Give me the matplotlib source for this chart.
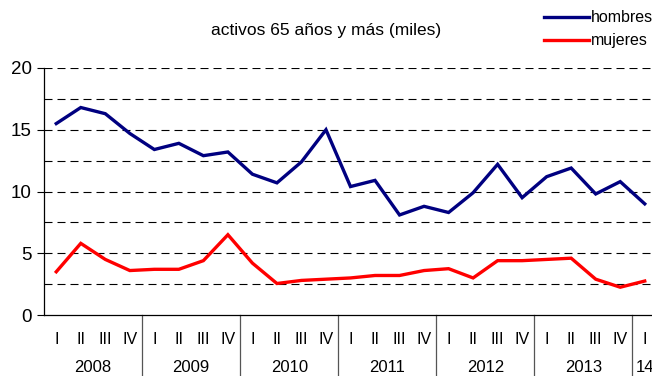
import matplotlib
matplotlib.use('Agg')
import matplotlib.pyplot as plt
import matplotlib.transforms as transforms
import numpy as np

plt.rcParams['font.family'] = ['Liberation Sans', 'DejaVu Sans']

YEARS = ['2008', '2009', '2010', '2011', '2012', '2013', '14']
QUARTERS = ['I', 'II', 'III', 'IV']

hombres = [15.5, 16.8, 16.3, 14.7, 13.4, 13.9, 12.9, 13.2,
           11.4, 10.7, 12.4, 15.0, 10.4, 10.9, 8.1, 8.8,
           8.3, 9.9, 12.2, 9.5, 11.2, 11.9, 9.8, 10.8, 9.0]
mujeres = [3.5, 5.8, 4.5, 3.6, 3.7, 3.7, 4.4, 6.5,
           4.2, 2.55, 2.8, 2.9, 3.0, 3.2, 3.2, 3.6,
           3.75, 3.0, 4.4, 4.4, 4.5, 4.6, 2.9, 2.25, 2.75]

W, H = 652, 376
fig = plt.figure(figsize=(W / 100, H / 100), dpi=100)
# axes run a little past the right edge, so the last year is cut off
ax = fig.add_axes([44 / W, (H - 315) / H, (657 - 44) / W, (315 - 68) / H])

x = np.arange(len(hombres))
ax.plot(x, hombres, color='#000080', lw=2.4, label='hombres', solid_joinstyle='miter')
ax.plot(x, mujeres, color='#ff0000', lw=2.4, label='mujeres', solid_joinstyle='miter')

ax.set_xlim(-0.5, len(x) - 0.5)
ax.set_ylim(0, 20)
ax.set_yticks(np.arange(0, 21, 5))
ax.tick_params(axis='y', which='major', length=5, width=0.8, labelsize=13.5, pad=4)
ax.set_xticks([])
for yv in np.arange(2.5, 20.1, 2.5):
    ax.axhline(yv, color='black', lw=0.8, dashes=(7.2, 4.5), zorder=0)

for side in ['top', 'right']:
    ax.spines[side].set_visible(False)
ax.spines['left'].set_linewidth(0.9)
ax.spines['bottom'].set_linewidth(0.9)

# two-level category axis: quarters, then years, split by vertical lines
trans = transforms.blended_transform_factory(ax.transData, ax.transAxes)
axh = (315 - 68)
for i in range(len(x)):
    ax.text(i, -25 / axh, QUARTERS[i % 4], transform=trans, ha='center', va='center',
            fontsize=11.5, clip_on=False)
for k, year in enumerate(YEARS):
    start = k * 4
    end = min(start + 3, len(x) - 1)
    ax.text((start + end) / 2, -53 / axh, year, transform=trans, ha='center', va='center',
            fontsize=12, clip_on=False)
    if k > 0:
        ax.plot([start - 0.5, start - 0.5], [0, -70 / axh], transform=trans,
                color='#555555', lw=0.9, clip_on=False)

fig.text(326 / W, 1 - 30 / H, 'activos 65 años y más (miles)', ha='center', va='center',
         fontsize=12.5)

fig.legend(loc='upper left', bbox_to_anchor=(538 / W, 1 - 4 / H), frameon=False,
           fontsize=11.5, handlelength=2.8, handletextpad=0.1, labelspacing=0.5,
           borderaxespad=0)

fig.savefig('out.png', dpi=100)
